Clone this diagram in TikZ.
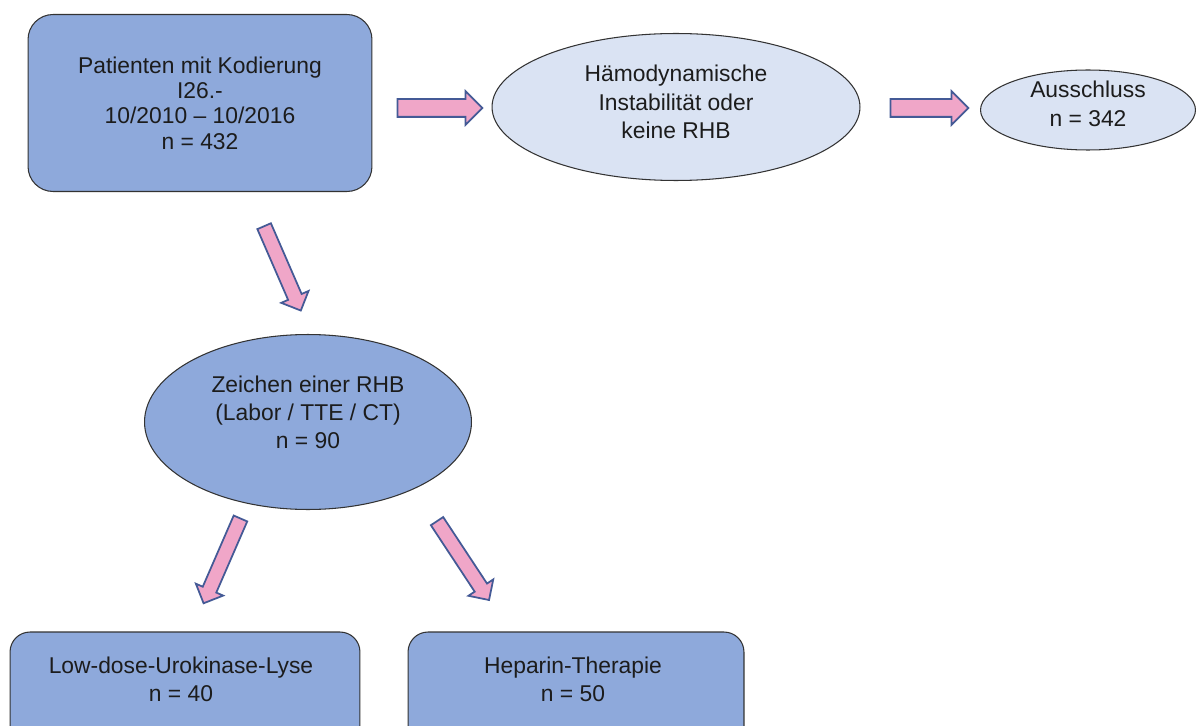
\documentclass[tikz,border=0pt]{standalone}
\usepackage{fontspec}
\setmainfont{Liberation Sans}
\usepackage{tikz}
\usetikzlibrary{shapes.geometric,shapes.arrows}

\definecolor{boxblue}{RGB}{142,169,219}
\definecolor{paleblue}{RGB}{218,227,243}
\definecolor{arrowpink}{RGB}{240,166,200}
\definecolor{arrowline}{RGB}{68,90,150}
\definecolor{textgray}{RGB}{28,28,28}

\begin{document}
\begin{tikzpicture}[x=0.02cm,y=-0.02cm,
    box/.style={draw=black!80, line width=0.6pt, rounded corners=0.5cm, fill=boxblue, inner sep=0pt},
    oval/.style={ellipse, draw=black!80, line width=0.6pt, inner sep=0pt},
    txt/.style={align=center, text=textgray, inner sep=0pt, font=\fontsize{13}{14.4}\selectfont},
    blockarrow/.style={single arrow, draw=arrowline, fill=arrowpink, line width=1pt,
      inner xsep=0pt, inner ysep=0.13cm, single arrow head extend=0.15cm},
    widearrow/.style={blockarrow, inner ysep=0.16cm, single arrow head extend=0.16cm}]
      \useasboundingbox (0,0) rectangle (1196,726);

      % boxes and ovals
      \node[box, name=patienten, minimum width=6.88cm, minimum height=3.54cm] at (200,103) {};
      \node[txt, name=patiententxt] at (patienten.center)
        {Patienten mit Kodierung\\I26.-\\10/2010 -- 10/2016\\n = 432};
      \node[oval, name=instab, fill=paleblue, minimum width=7.36cm, minimum height=2.94cm] at (676,107) {};
      \node[txt, name=instabtxt, font=\fontsize{13}{16.2}\selectfont] at ([yshift=0.1cm]instab.center)
        {Hämodynamische\\Instabilität oder\\keine RHB};
      \node[oval, name=ausschluss, fill=paleblue, minimum width=4.3cm, minimum height=1.6cm] at (1088,110) {};
      \node[txt, name=ausschlusstxt, font=\fontsize{13}{16.4}\selectfont] at ([yshift=0.13cm]ausschluss.center)
        {Ausschluss\\n = 342};
      \node[oval, name=rhb, fill=boxblue, minimum width=6.54cm, minimum height=3.5cm] at (308,422) {};
      \node[txt, name=rhbtxt, font=\fontsize{13}{16}\selectfont] at ([yshift=0.2cm]rhb.center)
        {Zeichen einer RHB\\(Labor / TTE / CT)\\n = 90};
      \node[box, name=lyse, minimum width=7cm, minimum height=2.4cm, rounded corners=0.4cm] at (185,692) {};
      \node[txt, name=lysetxt, font=\fontsize{13}{16}\selectfont] at (181,679)
        {Low-dose-Urokinase-Lyse\\n = 40};
      \node[box, name=heparin, minimum width=6.72cm, minimum height=2.4cm, rounded corners=0.4cm] at (576,692) {};
      \node[txt, name=heparintxt, font=\fontsize{13}{16}\selectfont] at (573,679)
        {Heparin-Therapie\\n = 50};

      % arrows
      \node[widearrow, name=a1, minimum height=1.7cm] at (435.5,108) {};
      \node[widearrow, name=a2, minimum height=1.56cm] at (925,108) {};
      \node[blockarrow, name=a3, minimum height=1.84cm, rotate=-66.5] at (281,265) {};
      \node[blockarrow, name=a4, minimum height=1.85cm, rotate=-113.5] at (223.5,557.5) {};
      \node[blockarrow, name=a5, minimum height=1.89cm, rotate=-56.6] at (461,557.5) {};
    \end{tikzpicture}
\end{document}
